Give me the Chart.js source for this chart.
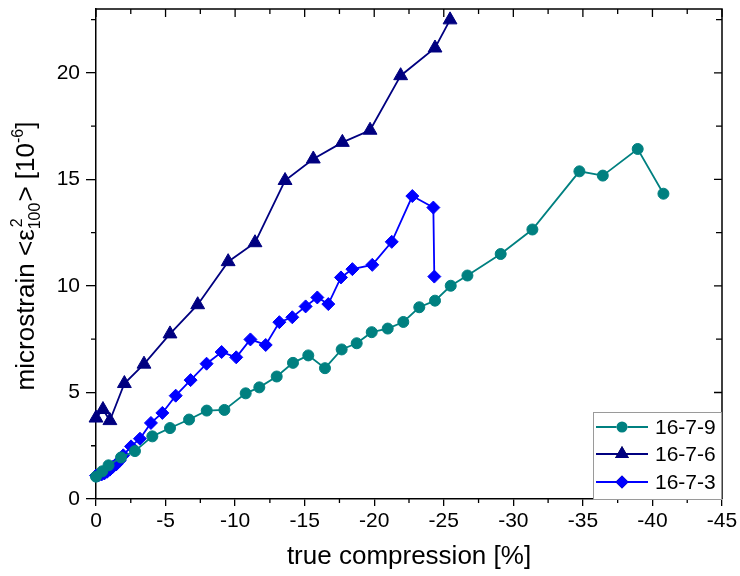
<!DOCTYPE html>
<html><head><meta charset="utf-8">
<script src="https://cdn.jsdelivr.net/npm/chart.js@4/dist/chart.umd.min.js"></script>
<style>html,body{margin:0;padding:0;background:#fff}#wrap{width:740px;height:576px}</style>
</head><body><div id="wrap"><canvas id="c" width="740" height="576"></canvas></div>
<script>
// ---- data ----
const xTickValues = [0, -5, -10, -15, -20, -25, -30, -35, -40, -45];
const yTickValues = [0, 5, 10, 15, 20];
const seriesNames = ['16-7-9', '16-7-6', '16-7-3'];

const x9 = [0, -0.45, -0.9, -1.8, -2.8, -4.05, -5.32, -6.69, -7.96, -9.23, -10.76, -11.74, -12.99, -14.16, -15.26, -16.46, -17.66, -18.74, -19.82, -20.97, -22.09, -23.24, -24.37, -25.5, -26.7, -29.09, -31.37, -34.75, -36.43, -38.94, -40.79];
const y9 = [1.05, 1.3, 1.58, 1.95, 2.25, 2.94, 3.33, 3.73, 4.15, 4.18, 4.96, 5.24, 5.75, 6.39, 6.74, 6.14, 7.02, 7.31, 7.83, 8.0, 8.31, 9.0, 9.31, 10.01, 10.49, 11.5, 12.65, 15.38, 15.18, 16.43, 14.33];

const x6 = [0, -0.5, -1.0, -2.04, -3.45, -5.32, -7.31, -9.5, -11.43, -13.59, -15.62, -17.71, -19.7, -21.9, -24.37, -25.45];
const y6 = [3.8, 4.2, 3.68, 5.42, 6.33, 7.75, 9.12, 11.14, 12.03, 14.95, 15.96, 16.74, 17.31, 19.87, 21.17, 22.49];

const x3 = [0, -0.2, -0.4, -0.6, -0.8, -1.0, -1.2, -1.45, -1.7, -1.96, -2.52, -3.16, -3.95, -4.77, -5.73, -6.8, -7.95, -9.03, -10.08, -11.1, -12.2, -13.18, -14.11, -15.07, -15.91, -16.7, -17.61, -18.43, -19.86, -21.26, -22.74, -24.25, -24.32];
const y3 = [1.1, 1.12, 1.15, 1.2, 1.28, 1.38, 1.5, 1.62, 1.8, 2.05, 2.47, 2.83, 3.57, 4.04, 4.85, 5.58, 6.35, 6.9, 6.65, 7.49, 7.23, 8.3, 8.53, 9.04, 9.46, 9.15, 10.4, 10.79, 10.99, 12.07, 14.22, 13.68, 10.44];

// ---- styling ----
const FONT = "'Liberation Sans', Arial, sans-serif";
const C9 = '#008080', C6 = '#000080', C3 = '#0000ff';
const pts = (xs, ys) => xs.map((x, i) => ({x: x, y: ys[i]}));

function mkSet(label, data, color, style, r) {
  return {
    label, data, borderColor: color, backgroundColor: color,
    borderWidth: 1.8, pointStyle: style, pointRadius: r, pointHoverRadius: r,
    pointBackgroundColor: color, pointBorderColor: color, pointBorderWidth: 1,
    tension: 0, clip: false, _r: r
  };
}

const frameTicks = {
  id: 'frameTicks',
  afterDraw(chart) {
    const ctx = chart.ctx, a = chart.chartArea;
    const xs = chart.scales.x, ys = chart.scales.y;
    ctx.save();
    ctx.strokeStyle = '#000'; ctx.lineWidth = 1.5;
    ctx.beginPath();
    ctx.moveTo(a.left, a.top); ctx.lineTo(a.right, a.top); ctx.lineTo(a.right, a.bottom);
    ctx.stroke();
    ctx.lineWidth = 1.3;
    ctx.beginPath();
    for (let v = 0; v >= -45; v -= 2.5) {
      const px = xs.getPixelForValue(v);
      const major = (v % 5 === 0);
      if (!major) { ctx.moveTo(px, a.bottom); ctx.lineTo(px, a.bottom + 4); }
      ctx.moveTo(px, a.top); ctx.lineTo(px, a.top + (major ? 8 : 5));
    }
    for (let v = 0; v <= 22.5; v += 2.5) {
      const py = ys.getPixelForValue(v);
      const major = (v % 5 === 0);
      if (!major) { ctx.moveTo(a.left, py); ctx.lineTo(a.left - 5, py); }
      ctx.moveTo(a.right, py); ctx.lineTo(a.right - (major ? 8 : 6), py);
    }
    ctx.stroke();
    ctx.restore();
  }
};

const yTitle = {
  id: 'yTitle',
  afterDraw(chart) {
    const ctx = chart.ctx;
    const big = "26px " + FONT, small = "16px " + FONT;
    const parts = [
      {t: 'microstrain <\u03b5', f: big, dy: 0},
      {stack: true, sub: '100', sup: '2'},
      {t: '> [10', f: big, dy: 0},
      {t: '-6', f: small, dy: -11},
      {t: ']', f: big, dy: 0}
    ];
    ctx.save();
    let total = 0;
    for (const p of parts) {
      if (p.stack) { ctx.font = small; p.w = Math.max(ctx.measureText(p.sub).width, ctx.measureText(p.sup).width) + 1; }
      else { ctx.font = p.f; p.w = ctx.measureText(p.t).width; }
      total += p.w;
    }
    ctx.translate(34, 256);
    ctx.rotate(-Math.PI / 2);
    ctx.fillStyle = '#000'; ctx.textBaseline = 'alphabetic'; ctx.textAlign = 'left';
    let x = -total / 2;
    for (const p of parts) {
      if (p.stack) {
        ctx.font = small;
        ctx.fillText(p.sub, x, 6);
        ctx.fillText(p.sup, x + 2, -12);
      } else {
        ctx.font = p.f; ctx.fillText(p.t, x, p.dy);
      }
      x += p.w;
    }
    ctx.restore();
  }
};

const boxLegend = {
  id: 'boxLegend',
  afterDraw(chart) {
    const ctx = chart.ctx, a = chart.chartArea;
    const L = 593, T = 412, R = a.right, B = a.bottom;
    ctx.save();
    ctx.fillStyle = '#fff'; ctx.fillRect(L, T, R - L, B - T);
    ctx.strokeStyle = '#9a9a9a'; ctx.lineWidth = 1;
    ctx.strokeRect(L + 0.5, T + 0.5, R - L - 1, B - T);
    const rows = [427, 454, 482];
    chart.data.datasets.forEach((ds, i) => {
      const y = rows[i];
      ctx.strokeStyle = ds.borderColor; ctx.lineWidth = 1.8;
      ctx.beginPath(); ctx.moveTo(596, y); ctx.lineTo(648, y); ctx.stroke();
      Chart.helpers.drawPoint(ctx, {pointStyle: ds.pointStyle, radius: ds._r, rotation: 0, borderWidth: 0}, 622, y);
      ctx.fillStyle = ds.borderColor; ctx.fill();
      ctx.fillStyle = '#000'; ctx.font = "21px " + FONT;
      ctx.textBaseline = 'middle'; ctx.textAlign = 'left';
      ctx.fillText(ds.label, 655, y + 1);
    });
    ctx.restore();
  }
};

new Chart(document.getElementById('c'), {
  type: 'line',
  data: {
    datasets: [
      mkSet(seriesNames[0], pts(x9, y9), C9, 'circle', 5.5),
      mkSet(seriesNames[1], pts(x6, y6), C6, 'triangle', 8),
      mkSet(seriesNames[2], pts(x3, y3), C3, 'rectRot', 6.5)
    ]
  },
  options: {
    responsive: false, devicePixelRatio: 1, animation: false,
    layout: {padding: {top: 3, right: 18, left: 0, bottom: 0}},
    plugins: {legend: {display: false}, tooltip: {enabled: false}},
    scales: {
      x: {
        type: 'linear', reverse: true, min: -45, max: 0,
        afterBuildTicks: s => { s.ticks = xTickValues.map(v => ({value: v})); },
        afterFit: s => { s.height = 77; s.paddingLeft = 0; s.paddingRight = 0; },
        ticks: {font: {family: FONT, size: 21}, color: '#000', padding: 3, maxRotation: 0, autoSkip: false, callback: v => String(v)},
        grid: {drawOnChartArea: false, drawTicks: true, tickLength: 7, color: '#000', lineWidth: 1.3},
        border: {color: '#000', width: 1.5},
        title: {display: true, text: 'true compression [%]', font: {family: FONT, size: 26}, color: '#000', padding: {top: 0, bottom: 4}}
      },
      y: {
        type: 'linear', min: 0, max: 23,
        afterBuildTicks: s => { s.ticks = yTickValues.map(v => ({value: v})); },
        afterFit: s => { s.width = 96; s.paddingTop = 0; s.paddingBottom = 0; },
        ticks: {font: {family: FONT, size: 21}, color: '#000', padding: 6, callback: v => String(v)},
        grid: {drawOnChartArea: false, drawTicks: true, tickLength: 10, color: '#000', lineWidth: 1.3},
        border: {color: '#000', width: 1.5},
        title: {display: false}
      }
    }
  },
  plugins: [frameTicks, yTitle, boxLegend]
});
</script>
</body></html>
